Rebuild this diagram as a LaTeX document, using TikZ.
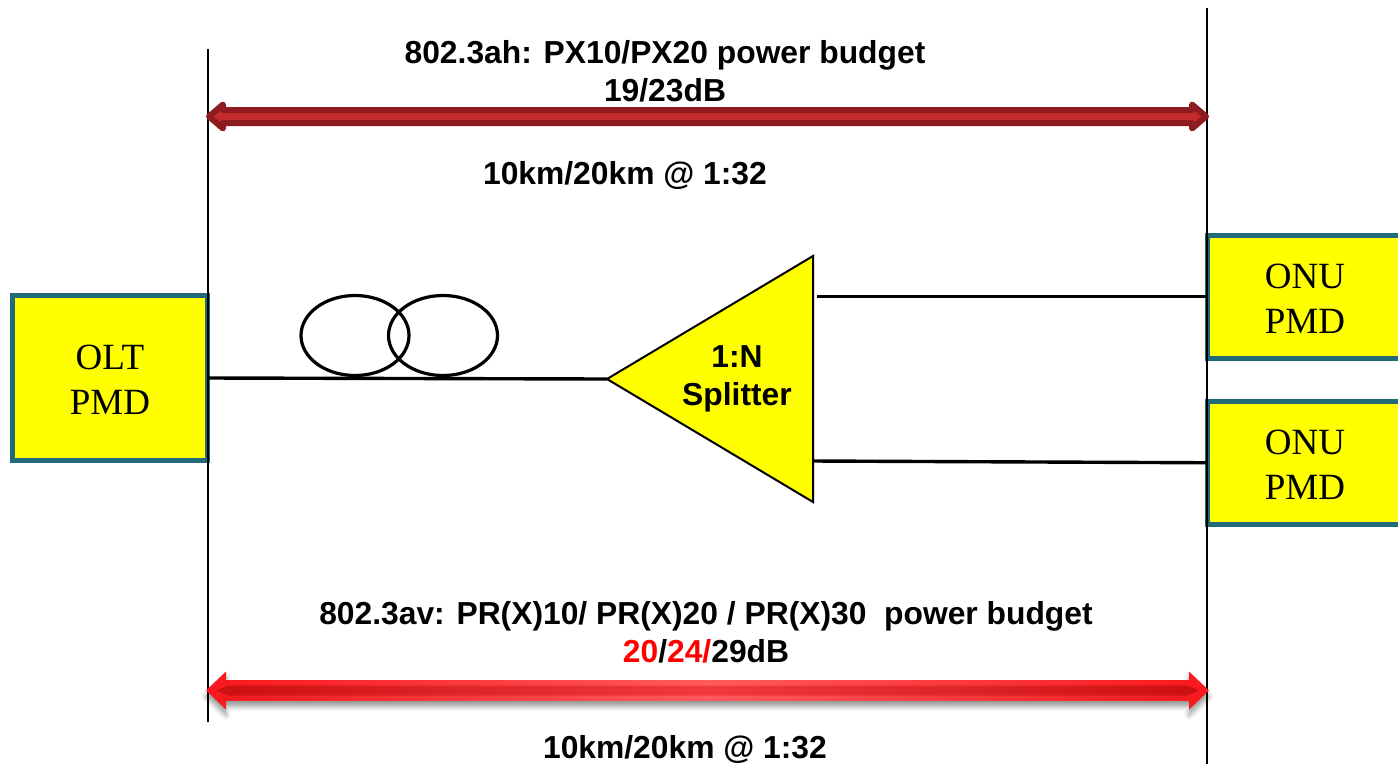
\documentclass[tikz,border=0pt]{standalone}
\usepackage{fontspec}
\setmainfont{Liberation Sans}
\newfontfamily\serifpmd{Liberation Serif}
\usetikzlibrary{shadows.blur}
\definecolor{boxedge}{HTML}{216A7A}
\definecolor{pmdyellow}{RGB}{255,255,0}
\definecolor{textred}{RGB}{255,0,0}
\definecolor{darkred}{HTML}{8E1B1F}
\definecolor{midred}{HTML}{C42A2E}
\definecolor{brightred}{HTML}{F81A1E}
\definecolor{lightred}{HTML}{FF5A5C}
\definecolor{deepred}{HTML}{CC1012}
\definecolor{centrered}{HTML}{F03A3C}
\newcommand{\blockpath}[6]{(#1,#3) -- ({#1+#4},{#3-#6}) -- ({#1+#4},{#3-#5}) -- ({#2-#4},{#3-#5}) -- ({#2-#4},{#3-#6}) -- (#2,#3) -- ({#2-#4},{#3+#6}) -- ({#2-#4},{#3+#5}) -- ({#1+#4},{#3+#5}) -- ({#1+#4},{#3+#6}) -- cycle}
\newcommand{\pmdtop}{\rule{0pt}{29pt}}
\tikzset{
  x=1pt,y=-1pt,
  pmd/.style={draw=boxedge,line width=5pt,fill=pmdyellow,align=center,inner sep=0pt,outer sep=0pt,
    font=\fontsize{37}{45}\selectfont\serifpmd},
  label/.style={inner sep=0pt,align=center,font=\fontsize{31.8}{38}\selectfont\bfseries},
  fibre/.style={line width=3.4pt,black},
  rule/.style={line width=1.7pt,black},
  coil/.style={draw=black,line width=3.2pt},
}
\begin{document}
\begin{tikzpicture}
\useasboundingbox (0,0) rectangle (1398,764);
% boxes
\node[pmd,minimum width=195pt,minimum height=165pt] (olt) at (110,378) {\pmdtop OLT\\PMD};
\node[pmd,minimum width=195pt,minimum height=123.5pt] (onua) at (1305,296.75) {\pmdtop ONU\\PMD};
\node[pmd,minimum width=195pt,minimum height=123.5pt] (onub) at (1305,462.75) {\pmdtop ONU\\PMD};
% vertical rules
\coordinate (la) at (208,49); \coordinate (lb) at (208,722);
\coordinate (ra) at (1207,8); \coordinate (rb) at (1207,764);
\draw[rule] (la) -- (lb);
\draw[rule] (ra) -- (rb);
% splitter
\coordinate (tip) at (607,379);
\coordinate (st) at (813,256);
\coordinate (sb) at (813,502);
\draw[line width=2pt,fill=pmdyellow,line join=miter] (tip) -- (st) -- (sb) -- cycle;
\node[label] (split) at (737,378.5) {1:N\\Splitter};
% fibres
\coordinate (oa) at (817,296.5);
\coordinate (ob) at (813,461);
\draw[fibre] (olt.east) -- (tip);
\draw[fibre] (oa) -- (onua.west |- oa);
\draw[fibre] (ob) -- (onub.west);
% coil
\draw[coil] (355,335.5) ellipse [x radius=54,y radius=40];
\draw[coil] (443,335.5) ellipse [x radius=54.5,y radius=40];
% upper span
\draw[draw=darkred,fill=midred,line width=6pt,line join=round]
  \blockpath{209}{1206}{116.5}{14}{6.5}{12};
% lower span
\fill[brightred,blur shadow={shadow xshift=0pt,shadow yshift=-6pt,shadow blur radius=5pt,shadow opacity=40}]
  \blockpath{206}{1209}{690.5}{20}{10}{19};
\shade[left color=brightred,right color=brightred,middle color=lightred]
  (226,680.5) rectangle (1189,700.5);
\shade[left color=deepred,right color=deepred,middle color=centrered]
  (216,690.5) -- (228,685.5) -- (1187,685.5) -- (1199,690.5) -- (1187,695.5) -- (228,695.5) -- cycle;
% labels
\node[label] (t1) at (665,71.5) {802.3ah: PX10/PX20 power budget\\19/23dB};
\node[label] (t2) at (625,175) {10km/20km @ 1:32};
\node[label] (t3) at (706,632.5) {802.3av: PR(X)10/ PR(X)20 / PR(X)30\ \ power budget\\\textcolor{textred}{20}/\textcolor{textred}{24/}29dB};
\node[label] (t4) at (685,749) {10km/20km @ 1:32};
\end{tikzpicture}
\end{document}
